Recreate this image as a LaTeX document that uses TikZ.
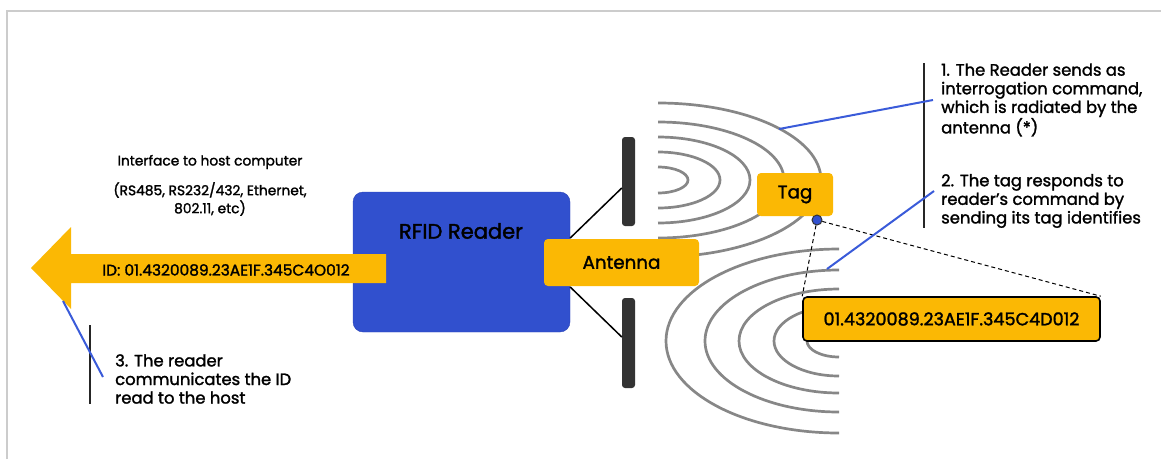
\documentclass[tikz,border=0pt]{standalone}
\usepackage{fontspec}
\setmainfont{Poppins}[FakeBold=1.6]
\usetikzlibrary{calc, positioning}
\definecolor{tagyellow}{HTML}{FBB804}
\definecolor{readerblue}{HTML}{3150CE}
\definecolor{readeredge}{HTML}{2A44B8}
\definecolor{noteblue}{HTML}{3A5BD9}
\definecolor{wavegray}{HTML}{878787}
\definecolor{bardark}{HTML}{333333}
\definecolor{framegray}{HTML}{CCCCCC}

\begin{document}
\begin{tikzpicture}[x=1pt, y=-1pt, every node/.style={font=\fontsize{16.4}{18.6}\selectfont}]
  \tikzset{
    yellowbox/.style={fill=tagyellow, rounded corners=4pt, inner sep=0pt},
    idbox/.style={yellowbox, draw=black, line width=1.6pt},
    wave/.style={draw=wavegray, line width=2.7pt},
    bar/.style={fill=bardark, rounded corners=3pt, minimum width=13pt, inner sep=0pt},
    note/.style={anchor=west, align=left, inner sep=0pt},
    pointer/.style={draw=noteblue, line width=2pt},
    notebar/.style={draw=black!85, line width=2pt}
  }
  \useasboundingbox (0,0) rectangle (1161,459);
  % frame
  \draw[framegray, line width=1.5pt] (7,459) -- (7,11) -- (1161,11);

  % radiated waves (reader) and reflected waves (tag)
  \foreach \rx/\ry in {30/13, 62/28, 92/43, 126/58, 163/77}
    \draw[wave] (658,180) ++(90:\rx pt and \ry pt) arc (90:-90:\rx pt and \ry pt);
  \foreach \rx/\ry in {32/16, 65/35, 100/52, 134/71, 173/92}
    \draw[wave] (839,341) ++(90:\rx pt and \ry pt) arc (90:270:\rx pt and \ry pt);
  \coordinate (wavept1) at (779,129);
  \coordinate (wavept2) at (827,269);

  % antenna plates
  \node[bar, minimum height=89pt] (bartop) at (628.5,181.5) {};
  \node[bar, minimum height=90pt] (barbot) at (628.5,343) {};

  \node[draw=readeredge, fill=readerblue, rounded corners=10pt, minimum width=217pt, minimum height=140pt] (reader) at (461.5,262) {};
  \node[font=\fontsize{21}{24}\selectfont] (readername) at (461,231) {RFID Reader};
  \draw[line width=1.5pt] ($(reader.east)+(0,-24)$) -- ($(bartop.west)+(0,6.5)$);
  \draw[line width=1.5pt] ($(reader.east)+(0,25)$) -- ($(barbot.west)+(0,-6)$);

  \node[yellowbox, minimum width=155pt, minimum height=47pt, font=\fontsize{18.3}{20}\selectfont] (antenna) at (621.5,262.5) {Antenna};
  \node[yellowbox, minimum width=76pt, minimum height=43pt, font=\fontsize{18.3}{20}\selectfont] (tag) at (795,194.5) {Tag};
  \node[idbox, minimum width=297pt, minimum height=44pt, font=\fontsize{17.6}{20}\selectfont] (idbox) at (951.5,319) {01.4320089.23AE1F.345C4D012};
  \node[circle, draw=black!80, fill=readerblue, line width=1pt, inner sep=0pt, minimum size=10pt] (tagdot) at (817,220) {};
  \draw[dash pattern=on 4pt off 3pt, line width=1pt] (tagdot) -- (idbox.north west);
  \draw[dash pattern=on 4pt off 3pt, line width=1pt] (tagdot) -- (idbox.north east);

  % host side
  \fill[tagyellow] (386,254) -- (71,254) -- (71,227) -- (31,268) -- (71,309) -- (71,283) -- (386,283) -- cycle;
  \coordinate (arrowpt) at (63,301);
  \node[font=\fontsize{15.4}{17}\selectfont] (idtext) at (226,270) {ID: 01.4320089.23AE1F.345C4O012};
  \node[font=\fontsize{13.8}{18}\selectfont] (iface) at (210,162) {Interface to host computer};
  \node[font=\fontsize{13.8}{18}\selectfont, align=center] (ports) at (210,199) {(RS485, RS232/432, Ethernet,\\802.11, etc)};

  % notes
  \node[note] (note1) at (941,100) {1. The Reader sends as\\interrogation command,\\which is radiated by the\\antenna (*)};
  \node[note] (note2) at (941,201) {2. The tag responds to\\reader's command by\\sending its tag identifies};
  \node[note] (note3) at (115,379) {3. The reader\\communicates the ID\\read to the host};
  \draw[notebar] ($(note1.north west)+(-17,0)$) -- ($(note2.south west)+(-17,0)$);
  \draw[notebar] ($(note3.north west)+(-25,-29)$) -- ($(note3.south west)+(-25,0)$);
  \draw[pointer] (wavept1) -- ($(note1.west)+(-8,0)$);
  \draw[pointer] (wavept2) -- ($(note2.west)+(-7,-10)$);
  \draw[pointer] (arrowpt) -- ($(note3.west)+(-12,-2)$);
\end{tikzpicture}
\end{document}
